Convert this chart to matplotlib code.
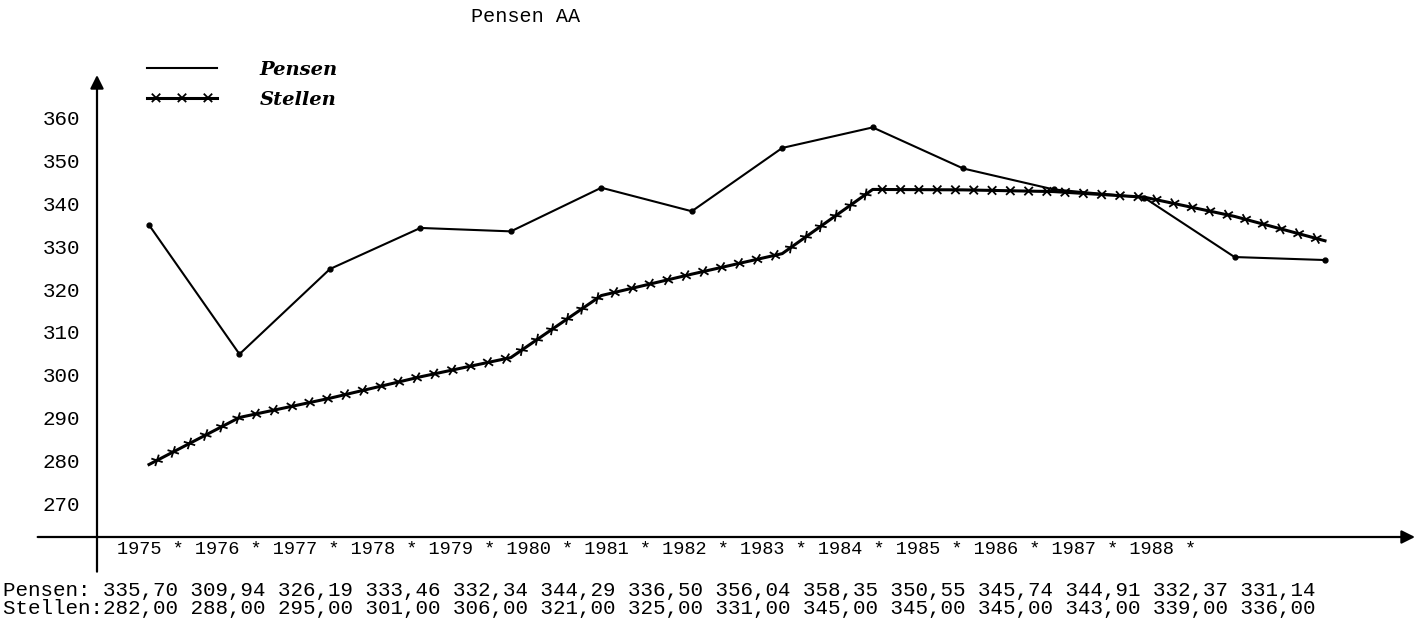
import matplotlib
matplotlib.use("Agg")
import matplotlib.pyplot as plt
import matplotlib.patheffects as pe

years = list(range(1975, 1989))

# values printed in the table under the chart
pensen_table = [335.70, 309.94, 326.19, 333.46, 332.34, 344.29, 336.50,
                356.04, 358.35, 350.55, 345.74, 344.91, 332.37, 331.14]
stellen_table = [282.00, 288.00, 295.00, 301.00, 306.00, 321.00, 325.00,
                 331.00, 345.00, 345.00, 345.00, 343.00, 339.00, 336.00]

# heights of the drawn curves (not exactly the table)
pensen_curve = [335.0, 304.8, 324.7, 334.3, 333.5, 343.7, 338.2,
                353.0, 357.8, 348.2, 343.3, 341.4, 327.5, 326.8]
stellen_curve = [279.0, 290.0, 294.5, 299.5, 304.0, 318.5, 323.5,
                 328.3, 343.3, 343.2, 342.8, 341.5, 337.0, 331.3]

y_ticks = list(range(270, 361, 10))
title = "Pensen AA"

plt.rcParams['font.family'] = ['Liberation Mono', 'DejaVu Sans Mono']

W, H = 1425, 632
fig = plt.figure(figsize=(W / 100, H / 100), dpi=100)
fig.patch.set_facecolor('white')

# plot box in pixels: left, top, right, bottom
L, T, R, B = 97, 75, 1415, 537
ax = fig.add_axes([L / W, 1 - B / H, (R - L) / W, (B - T) / H])
ax.set_xlim(1974.425, 1988.995)
ax.set_ylim(262.06, 370.05)
for s in ax.spines.values():
    s.set_visible(False)
ax.set_xticks([])
ax.set_yticks(y_ticks)
ax.tick_params(axis='y', length=0, pad=12, labelsize=15)

# axes with arrow heads
arrow = dict(arrowstyle='-|>', color='black', lw=1.6, mutation_scale=20,
             shrinkA=0, shrinkB=0)
ax.annotate('', xy=(0, 1), xytext=(0, -0.075), xycoords='axes fraction',
            arrowprops=arrow, annotation_clip=False)
ax.annotate('', xy=(1, 0), xytext=(-0.045, 0), xycoords='axes fraction',
            arrowprops=arrow, annotation_clip=False)

# Pensen: plain line with small dots at the points
ax.plot(years, pensen_curve, color='black', lw=1.5, label='Pensen',
        solid_joinstyle='round')
ax.plot(years, pensen_curve, 'o', color='black', ms=3.5)

# Stellen: heavier line with little crosses along it
crosses = [pe.Normal()] + [pe.TickedStroke(spacing=13, angle=a, length=0.28,
                                           linewidth=1.3)
                           for a in (45, 135, 225, 315)]
ax.plot(years, stellen_curve, color='black', lw=2.2, label='Stellen',
        path_effects=crosses, solid_joinstyle='round')

ax.legend(loc='upper left', bbox_to_anchor=(147 / W, 1 - 61 / H),
          bbox_transform=fig.transFigure, frameon=False,
          handlelength=3.6, handletextpad=2.2, labelspacing=0.6,
          borderpad=0, borderaxespad=0,
          prop={'family': 'DejaVu Serif', 'style': 'italic',
                'weight': 'bold', 'size': 14})

fig.text(526 / W, 1 - 16 / H, title, ha='center', va='center', fontsize=14.5)

year_row = ' '.join(f'{y} *' for y in years)
fig.text(117 / W, 1 - 549 / H, year_row, ha='left', va='center', fontsize=13.4)


def fmt(v):
    return f'{v:.2f}'.replace('.', ',')


pensen_row = 'Pensen: ' + ' '.join(fmt(v) for v in pensen_table)
stellen_row = 'Stellen:' + ' '.join(fmt(v) for v in stellen_table)
fig.text(3 / W, 1 - 591 / H, pensen_row, ha='left', va='center', fontsize=15)
fig.text(3 / W, 1 - 608 / H, stellen_row, ha='left', va='center', fontsize=15)

fig.savefig('out.png', dpi=100, facecolor='white')
